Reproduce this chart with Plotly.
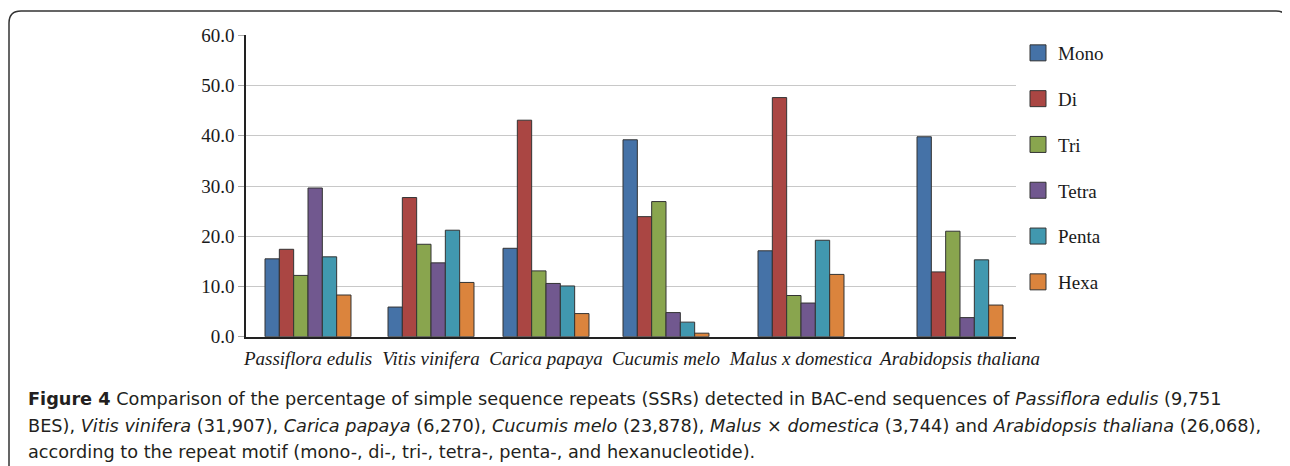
import plotly.graph_objects as go

# ---------------- data ----------------
species = ["Passiflora edulis", "Vitis vinifera", "Carica papaya",
           "Cucumis melo", "Malus x domestica", "Arabidopsis thaliana"]
motifs = ["Mono", "Di", "Tri", "Tetra", "Penta", "Hexa"]

mono  = [15.5, 5.9, 17.6, 39.2, 17.1, 39.8]
di    = [17.4, 27.7, 43.1, 23.9, 47.6, 12.9]
tri   = [12.2, 18.4, 13.1, 26.9, 8.2, 21.0]
tetra = [29.6, 14.7, 10.6, 4.8, 6.7, 3.8]
penta = [15.9, 21.2, 10.1, 2.9, 19.2, 15.3]
hexa  = [8.3, 10.8, 4.6, 0.7, 12.4, 6.3]
series = [mono, di, tri, tetra, penta, hexa]

y_ticks = [0, 10, 20, 30, 40, 50, 60]

caption_lines = [
    "<b>Figure 4</b> Comparison of the percentage of simple sequence repeats (SSRs) detected in BAC-end sequences of <i>Passiflora edulis</i> (9,751",
    "BES), <i>Vitis vinifera</i> (31,907), <i>Carica papaya</i> (6,270), <i>Cucumis melo</i> (23,878), <i>Malus</i> × <i>domestica</i> (3,744) and <i>Arabidopsis thaliana</i> (26,068),",
    "according to the repeat motif (mono-, di-, tri-, tetra-, penta-, and hexanucleotide).",
]

# ---------------- layout / style ----------------
W, H = 1290, 466
OFF = 8  # the page body adds an 8px margin; positions below are page pixels
colors = ["#4572A7", "#AA4643", "#89A54E", "#71588F", "#4198AF", "#DB843D"]
# group centre positions along the x axis (axis spans 0..770 units)
group_x = [62, 185, 300, 420, 555, 714]
bar_w = 14.33

def px(x):
    return (x - OFF) / W

def py(y):
    return 1 - (y - OFF) / H

fig = go.Figure()
for i, (name, vals) in enumerate(zip(motifs, series)):
    fig.add_trace(go.Bar(
        x=group_x, y=vals, name=name,
        width=bar_w, offset=-3 * bar_w + i * bar_w,
        marker=dict(color=colors[i], line=dict(color="#333333", width=1)),
        showlegend=False,
    ))
# legend entries (16px squares)
for i, name in enumerate(motifs):
    fig.add_trace(go.Scatter(
        x=[None], y=[None], mode="markers", name=name, legendgroup=name,
        marker=dict(symbol="square", size=16, color=colors[i],
                    line=dict(color="#333333", width=1)),
    ))

serif = "Liberation Serif"

fig.update_layout(
    width=W, height=H,
    margin=dict(l=0, r=0, t=0, b=0, autoexpand=False),
    paper_bgcolor="white", plot_bgcolor="white",
    barmode="overlay",
    showlegend=True,
    legend=dict(
        x=px(1018), y=py(34), xanchor="left", yanchor="top",
        font=dict(family=serif, size=19, color="#1a1a1a"),
        bgcolor="rgba(0,0,0,0)", tracegroupgap=18.1, itemsizing="trace",
    ),
    xaxis=dict(
        domain=[px(246), px(1016)], range=[0, 770], automargin=False,
        tickvals=group_x, ticktext=species,
        tickfont=dict(family=serif, size=19, color="#1a1a1a", style="italic"),
        ticklabelstandoff=4,
        showgrid=False, zeroline=False,
        showline=True, linecolor="#222222", linewidth=1.5,
        ticks="", fixedrange=True,
    ),
    yaxis=dict(
        domain=[py(336.7), py(35.3)], range=[0, 60], automargin=False,
        tickvals=y_ticks, tickformat=".1f",
        tickfont=dict(family=serif, size=19, color="#1a1a1a"),
        showgrid=True, gridcolor="#C8C8C8", gridwidth=1,
        zeroline=False,
        showline=True, linecolor="#222222", linewidth=1.5,
        ticks="outside", ticklen=6, tickcolor="#AAAAAA",
        fixedrange=True,
    ),
)

# frame with rounded corners
r = 12
x0, y0, x1, y1 = 9, 11, 1288, 490
path = (f"M {px(x0)},{py(y1)} L {px(x0)},{py(y0 + r)} "
        f"Q {px(x0)},{py(y0)} {px(x0 + r)},{py(y0)} "
        f"L {px(x1 - r)},{py(y0)} Q {px(x1)},{py(y0)} {px(x1)},{py(y0 + r)} "
        f"L {px(x1)},{py(y1)}")
fig.add_shape(type="path", path=path, xref="paper", yref="paper",
              line=dict(color="#333333", width=1.5))

# caption
cap_y = [399, 425.5, 452]
for txt, yy in zip(caption_lines, cap_y):
    fig.add_annotation(
        text=txt, xref="paper", yref="paper", x=px(26), y=py(yy),
        xanchor="left", yanchor="middle", showarrow=False,
        font=dict(family="DejaVu Sans", size=17.7, color="#231F20"),
    )

fig.write_html("out.html")
